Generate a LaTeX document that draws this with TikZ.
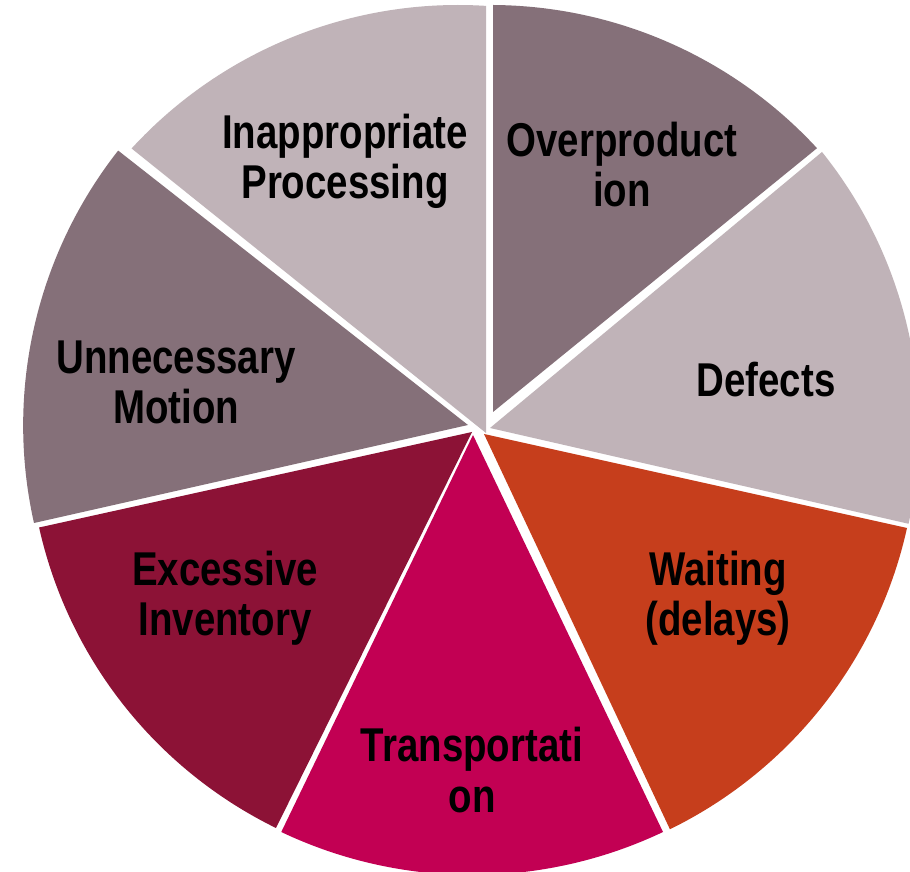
\documentclass[tikz,border=0pt]{standalone}
\usepackage{fontspec}
\usepackage{tikz}
\newfontfamily\narrowsans[FakeStretch=0.81]{Liberation Sans}
\newcommand{\wastefont}{\narrowsans\bfseries\fontsize{27}{28.5}\selectfont}

\definecolor{mauvedark}{HTML}{857079}
\definecolor{mauvelight}{HTML}{C0B3B8}
\definecolor{rustred}{HTML}{C63E1C}
\definecolor{berry}{HTML}{C20053}
\definecolor{wine}{HTML}{8C1236}

\begin{document}
\begin{tikzpicture}[scale=0.2]
\tikzstyle{every node}+=[inner sep=0pt, align=center, font=\wastefont, text=black]
\clip (0,0) rectangle (91,-87.2);
\fill [white] (0,0) rectangle (91,-87.2);
% the seven wedges, going clockwise from the top
\fill [mauvelight] (48.6,-43.3) -- (48.61,-0.59) arc (86.36:137.46:44.3) -- cycle;
\fill [mauvedark] (49.3,-41.2) -- (49.31,-0.5) arc (89.6:42.7:44.5) -- cycle;
\fill [mauvelight] (49.0,-42.8) -- (82.2,-15.2) arc (38.75:-12.54:44.1) -- cycle;
\fill [rustred] (48.4,-43.4) -- (90.7,-52.8) arc (-12.5:-63.9:44.2) -- cycle;
\fill [berry] (47.3,-43.5) -- (66.3,-83.2) arc (-64.6:-115.4:44.5) -- cycle;
\fill [wine] (47.2,-43.2) -- (27.6,-82.8) arc (-116.1:-167.4:44.2) -- cycle;
\fill [mauvedark] (46.8,-42.5) -- (3.4,-52.3) arc (192.67:141.86:44.5) -- cycle;
% labels
\node (processing) at (34.5,-16.1) {Inappropriate\\Processing};
\node (overprod) at (62.2,-16.5) {Overproduct\\ion};
\node (defects) at (76.6,-38.0) {Defects};
\node (waiting) at (71.8,-59.8) {Waiting\\(delays)};
\node (transport) at (47.2,-77.0) {Transportati\\on};
\node (inventory) at (22.5,-59.8) {Excessive\\Inventory};
\node (motion) at (17.6,-38.2) {Unnecessary\\Motion};
\end{tikzpicture}
\end{document}
